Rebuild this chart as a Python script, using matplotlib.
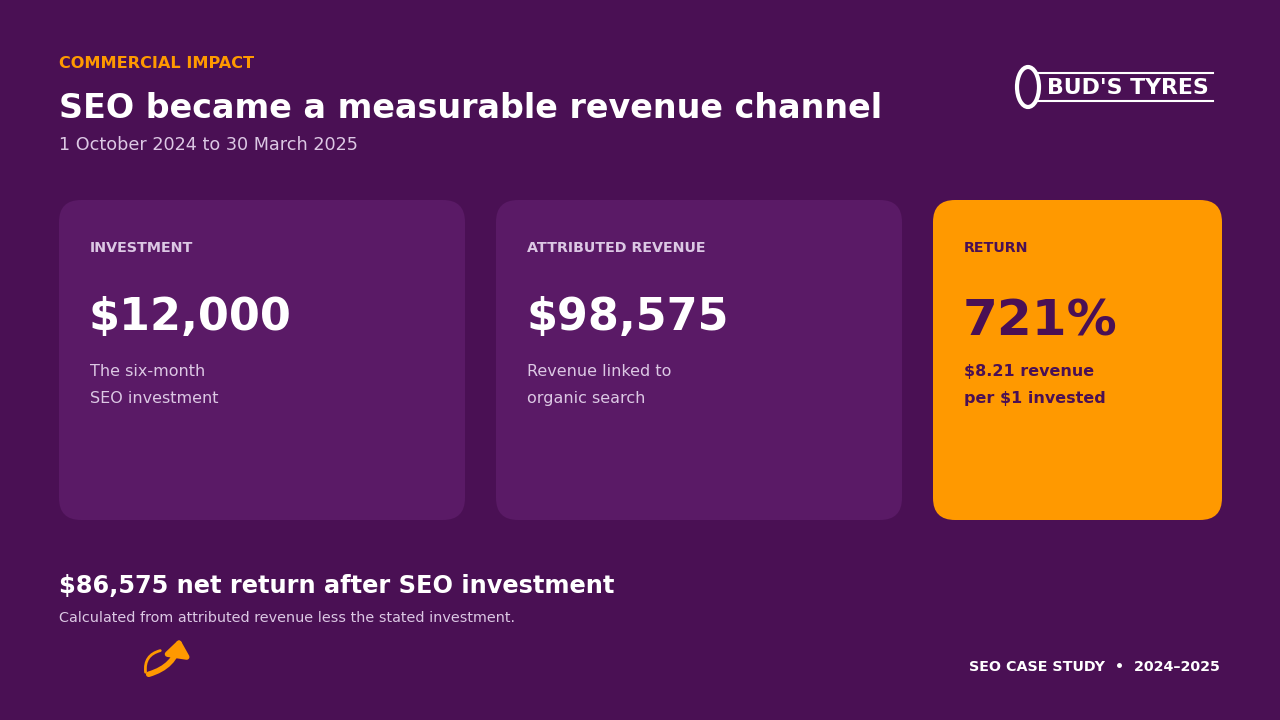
import matplotlib.pyplot as plt
from matplotlib.patches import FancyBboxPatch, FancyArrowPatch, Ellipse

BG = "#4a1054"
CARD = "#5a1a66"
ORANGE = "#ff9900"
LAV = "#dcc8e4"
DARK = "#4a1054"

card_labels = ["INVESTMENT", "ATTRIBUTED REVENUE", "RETURN"]
card_values = ["$12,000", "$98,575", "721%"]
card_notes = ["The six-month\nSEO investment", "Revenue linked to\norganic search", "$8.21 revenue\nper $1 invested"]
card_x = [59, 496, 933]
card_w = [406, 406, 289]

fig = plt.figure(figsize=(12.8, 7.2), dpi=100)
fig.patch.set_facecolor(BG)
ax = fig.add_axes([0, 0, 1, 1])
ax.set_xlim(0, 1280)
ax.set_ylim(720, 0)
ax.axis("off")
ax.set_facecolor(BG)

ax.text(59, 64, "COMMERCIAL IMPACT", color=ORANGE, fontsize=11.6, fontweight="bold", va="center")
ax.text(59, 109, "SEO became a measurable revenue channel", color="white", fontsize=24, fontweight="bold", va="center")
ax.text(59, 145, "1 October 2024 to 30 March 2025", color=LAV, fontsize=12.7, va="center")

for i, (lab, val, note) in enumerate(zip(card_labels, card_values, card_notes)):
    x, w = card_x[i], card_w[i]
    hot = i == 2
    ax.add_patch(FancyBboxPatch((x + 22, 200 + 22), w - 44, 320 - 44,
                                boxstyle="round,pad=22", fc=ORANGE if hot else CARD, ec="none"))
    tc = DARK if hot else "white"
    ax.text(x + 31, 248, lab, color=DARK if hot else LAV, fontsize=10.3, fontweight="bold", va="center")
    ax.text(x + 30, 322 if hot else 318, val, color=tc, fontsize=36 if hot else 32, fontweight="bold", va="center")
    ax.text(x + 31, 385, note, color=DARK if hot else LAV, fontsize=11.5, va="center",
            linespacing=1.95, fontweight="bold" if hot else "normal")

ax.text(59, 586, "$86,575 net return after SEO investment", color="white", fontsize=17.3, fontweight="bold", va="center")
ax.text(59, 618, "Calculated from attributed revenue less the stated investment.", color=LAV, fontsize=10.4, va="center")

# curved arrow icon
ax.add_patch(FancyArrowPatch((146, 675), (180, 636), connectionstyle="arc3,rad=0.35",
                             arrowstyle="-|>,head_length=9,head_width=7", color=ORANGE, lw=4))
ax.add_patch(FancyArrowPatch((146, 675), (163, 650), connectionstyle="arc3,rad=-0.5",
                             arrowstyle="-", color=ORANGE, lw=2))

ax.text(1220, 667, "SEO CASE STUDY  •  2024–2025", color="white", fontsize=10.3, fontweight="bold",
        va="center", ha="right")

# logo
ax.add_patch(Ellipse((1028, 87), 22, 40, fc="none", ec="white", lw=3))
ax.plot([1036, 1213], [73, 73], color="white", lw=1.5)
ax.plot([1036, 1213], [101, 101], color="white", lw=1.5)
ax.text(1128, 88, "BUD'S TYRES", color="white", fontsize=15.8, fontweight="heavy", va="center",
        ha="center", family="DejaVu Sans")

fig.savefig("out.png", dpi=100, facecolor=BG)
